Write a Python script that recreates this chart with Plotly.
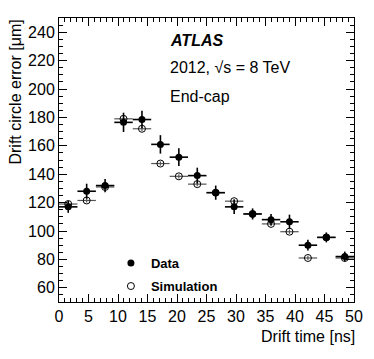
import plotly.graph_objects as go

# bin centres of the drift-time histogram [ns], bin half width 1.5625 ns
drift_time = [1.5625, 4.6875, 7.8125, 10.9375, 14.0625, 17.1875, 20.3125, 23.4375,
              26.5625, 29.6875, 32.8125, 35.9375, 39.0625, 42.1875, 45.3125, 48.4375]
bin_half = [1.5625] * 16

data_val = [117, 128, 132, 176.5, 178.5, 161, 152, 139,
            127, 117, 112, 108, 106.5, 90, 95.5, 82]
data_err = [4.2, 5.3, 4.7, 6.8, 6.1, 6.5, 6.2, 5.6,
            5.0, 5.0, 3.9, 3.9, 5.0, 3.8, 3.5, 3.5]

sim_val = [119, 121.5, 131, 179, 172, 147.5, 138.5, 133,
           127, 121, 112, 105, 99.5, 81, 95.5, 81]
sim_err = [1.5, 1.5, 1.5, 2.0, 1.5, 1.5, 1.5, 1.5,
           1.5, 1.5, 1.5, 1.5, 1.5, 1.5, 1.5, 1.5]

x_ticks = [0, 5, 10, 15, 20, 25, 30, 35, 40, 45, 50]
y_ticks = [60, 80, 100, 120, 140, 160, 180, 200, 220, 240]

FONT = "Liberation Sans, Arial, Helvetica, sans-serif"

fig = go.Figure()

fig.add_trace(go.Scatter(
    x=drift_time, y=sim_val, mode="markers", name="Simulation",
    marker=dict(symbol="circle-open", size=7, color="black", line=dict(width=1)),
    error_x=dict(type="data", array=bin_half, color="#555", thickness=1.2, width=0),
    error_y=dict(type="data", array=sim_err, color="#555", thickness=1.2, width=0),
    legend="legend2", showlegend=True,
))
fig.add_trace(go.Scatter(
    x=drift_time, y=data_val, mode="markers", name="Data",
    marker=dict(symbol="circle", size=7, color="black"),
    error_x=dict(type="data", array=bin_half, color="black", thickness=1.6, width=0),
    error_y=dict(type="data", array=data_err, color="black", thickness=1.6, width=0),
    legend="legend", showlegend=True,
))

axis_common = dict(
    showline=True, linecolor="black", linewidth=1, mirror="allticks",
    ticks="inside", ticklen=8, tickcolor="black", tickwidth=1,
    showgrid=False, zeroline=False,
    tickfont=dict(family=FONT, size=16, color="black"),
)

fig.update_xaxes(range=[0, 50], tickvals=x_ticks,
                 minor=dict(dtick=1, ticks="inside", ticklen=4, tickcolor="black", showgrid=False),
                 **axis_common)
fig.update_yaxes(range=[50, 250], tickvals=y_ticks,
                 minor=dict(dtick=5, ticks="inside", ticklen=4, tickcolor="black", showgrid=False),
                 **axis_common)

legend_style = dict(
    xanchor="left", yanchor="middle", bgcolor="rgba(0,0,0,0)", borderwidth=0,
    font=dict(family=FONT, size=13, color="black", weight="bold"),
)

# page body has an 8px margin, so the figure is a bit smaller than the window
fig.update_layout(
    width=366, height=351,
    margin=dict(l=51, r=20, t=10, b=57),
    paper_bgcolor="white", plot_bgcolor="white",
    font=dict(family=FONT, color="black"),
    showlegend=True,
    legend=dict(x=0.176, y=0.137, **legend_style),
    legend2=dict(x=0.176, y=0.056, **legend_style),
    annotations=[
        dict(text="<b><i>ATLAS</i></b>", x=0.369, y=0.9225, xref="paper", yref="paper",
             xanchor="left", yanchor="middle", showarrow=False,
             font=dict(family=FONT, size=16, color="black")),
        dict(text="2012, √s = 8 TeV", x=0.369, y=0.824, xref="paper", yref="paper",
             xanchor="left", yanchor="middle", showarrow=False,
             font=dict(family=FONT, size=16, color="black")),
        dict(text="End-cap", x=0.369, y=0.725, xref="paper", yref="paper",
             xanchor="left", yanchor="middle", showarrow=False,
             font=dict(family=FONT, size=16, color="black")),
        dict(text="Drift time [ns]", x=1.01, y=-0.12, xref="paper", yref="paper",
             xanchor="right", yanchor="middle", showarrow=False,
             font=dict(family=FONT, size=16, color="black")),
        dict(text="Drift circle error [μm]", x=-0.149, y=1.0, xref="paper", yref="paper",
             xanchor="center", yanchor="top", textangle=-90, showarrow=False,
             font=dict(family=FONT, size=16, color="black")),
    ],
)

fig.write_html("out.html")
